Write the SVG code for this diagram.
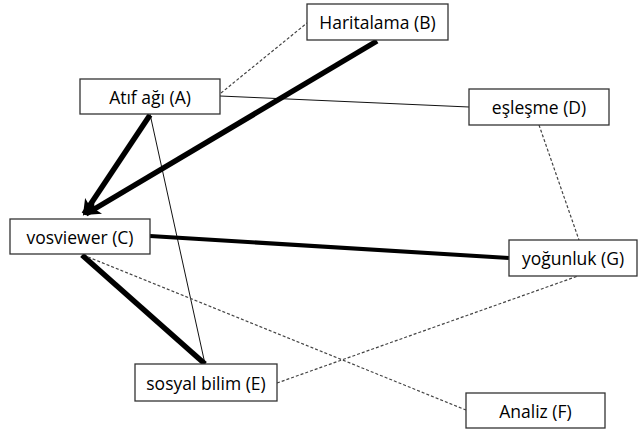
<svg xmlns="http://www.w3.org/2000/svg" width="638" height="429" viewBox="0 0 638 429">
<style>
.box{fill:#fff;stroke:#333;stroke-width:1.3}
.lbl{font-family:"Open Sans","Noto Sans",sans-serif;font-size:17.5px;fill:#000;text-anchor:middle;dominant-baseline:central}
.thin{stroke:#111;stroke-width:1;fill:none}
.dash{stroke:#444;stroke-width:1.2;stroke-dasharray:3 2;fill:none}
.thick{stroke:#000;stroke-width:5.5;fill:none}
</style>
<defs>
<marker id="arr" markerUnits="userSpaceOnUse" markerWidth="22" markerHeight="22" refX="14" refY="8" orient="auto">
<path d="M0,0 L16,8 L0,16 L4,8 Z" fill="#000"/>
</marker>
</defs>
<rect width="638" height="429" fill="#fff"/>
<g id="connectors">
<line class="dash" x1="221" y1="93" x2="307" y2="23"/>
<line class="thin" x1="220" y1="96" x2="469" y2="107"/>
<line class="thin" x1="150" y1="114" x2="205" y2="364"/>
<line class="thick" x1="377" y1="41" x2="86" y2="214" marker-end="url(#arr)"/>
<line class="thick" x1="150" y1="115" x2="84" y2="214" marker-end="url(#arr)"/>
<line class="thick" x1="150" y1="236" x2="509" y2="258" style="stroke-width:4"/>
<line class="thick" x1="82" y1="255" x2="205" y2="364"/>
<line class="dash" x1="88" y1="257" x2="466" y2="410"/>
<line class="dash" x1="277" y1="383" x2="578" y2="276"/>
<line class="dash" x1="539" y1="125" x2="579" y2="240"/>
</g>
<g id="A"><rect class="box" x="80" y="79" width="140" height="35"/><text class="lbl" x="150" y="96.5">Atıf ağı (A)</text></g>
<g id="B"><rect class="box" x="307" y="4" width="141" height="36"/><text class="lbl" x="377.5" y="22">Haritalama (B)</text></g>
<g id="C"><rect class="box" x="10" y="219" width="140" height="35"/><text class="lbl" x="80" y="236.5">vosviewer (C)</text></g>
<g id="D"><rect class="box" x="469" y="89" width="140" height="36"/><text class="lbl" x="539" y="107">eşleşme (D)</text></g>
<g id="E"><rect class="box" x="135" y="364" width="142" height="37"/><text class="lbl" x="206" y="382.5">sosyal bilim (E)</text></g>
<g id="F"><rect class="box" x="466" y="393" width="139" height="35"/><text class="lbl" x="535.5" y="410.5">Analiz (F)</text></g>
<g id="G"><rect class="box" x="509" y="240" width="128" height="36"/><text class="lbl" x="573" y="258">yoğunluk (G)</text></g>
</svg>
